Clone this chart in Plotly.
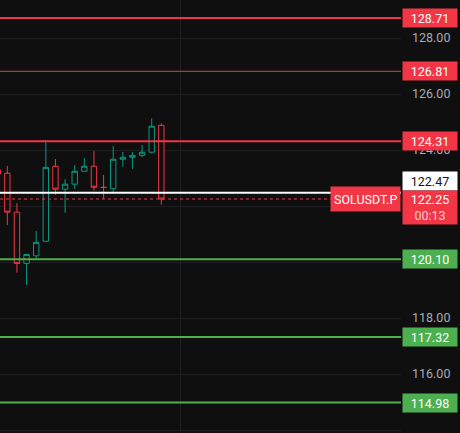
import plotly.graph_objects as go

# ---- data ----
candle_idx = list(range(18))
opens  = [123.29, 123.17, 121.78, 119.95, 120.22, 120.74, 123.42, 122.60, 122.78, 123.24,
          123.42, 122.67, 122.62, 123.67, 123.74, 123.81, 123.92, 124.88]
highs  = [123.35, 123.43, 122.10, 120.27, 121.11, 124.36, 123.68, 122.96, 123.46, 123.71,
          123.96, 123.11, 124.14, 123.93, 123.93, 124.18, 125.13, 124.95]
lows   = [122.90, 121.32, 119.62, 119.18, 120.14, 120.74, 122.40, 121.76, 122.61, 123.24,
          122.55, 122.26, 122.51, 123.40, 123.33, 123.74, 123.88, 122.05]
closes = [123.14, 121.78, 119.95, 120.27, 120.70, 123.38, 122.60, 122.78, 123.24, 123.42,
          122.67, 122.66, 123.67, 123.74, 123.81, 123.92, 124.85, 122.25]

tick_values = [114, 116, 118, 120, 122, 124, 126, 128]
tick_labels = ["114.00", "116.00", "118.00", "", "", "124.00", "126.00", "128.00"]

red_levels = [128.71, 126.81, 124.31]
red_widths = [2, 1, 2]
green_levels = [120.10, 117.32, 114.98]
white_level = 122.47
last_price = 122.25
countdown = "00:13"
symbol = "SOLUSDT.P"

# ---- styles ----
BG = "#0f0f0f"
RED = "#f23645"
GREEN = "#4caf50"
CANDLE_GREEN = "#089981"
GRID = "#1f1f1f"
FONT = "Roboto"

fig = go.Figure()
fig.add_trace(go.Candlestick(
    x=candle_idx, open=opens, high=highs, low=lows, close=closes,
    increasing=dict(line=dict(color=CANDLE_GREEN, width=1), fillcolor=BG),
    decreasing=dict(line=dict(color=RED, width=1), fillcolor=BG),
    whiskerwidth=0, hoverinfo="skip", showlegend=False,
))

shapes = []
for v, w in zip(red_levels, red_widths):
    shapes.append(dict(type="line", xref="paper", x0=0, x1=1, y0=v, y1=v,
                       line=dict(color=RED, width=w), layer="above"))
for v in green_levels:
    shapes.append(dict(type="line", xref="paper", x0=0, x1=1, y0=v, y1=v,
                       line=dict(color=GREEN, width=2), layer="above"))
shapes.append(dict(type="line", xref="paper", x0=0, x1=1, y0=white_level, y1=white_level,
                   line=dict(color="#ffffff", width=2), layer="above"))
shapes.append(dict(type="line", xref="paper", x0=0, x1=1, y0=last_price, y1=last_price,
                   line=dict(color=RED, width=1, dash="dot"), layer="above"))

annotations = []
def level_label(v, bg, fg="#ffffff", yshift=0):
    return dict(xref="paper", yref="y", x=1, y=v, xanchor="left", yanchor="middle",
                xshift=1, yshift=yshift, text=f"{v:.2f}", showarrow=False,
                bgcolor=bg, width=54, height=18, borderpad=0, align="center",
                font=dict(family=FONT, size=12.5, color=fg))

for v in red_levels:
    annotations.append(level_label(v, RED))
for v in green_levels:
    annotations.append(level_label(v, GREEN))
annotations.append(level_label(white_level, "#ffffff", fg="#131313", yshift=12))
annotations.append(dict(xref="paper", yref="y", x=1, y=last_price, xanchor="left", yanchor="top",
                        xshift=1, yshift=9, showarrow=False, bgcolor=RED, width=54, height=33,
                        borderpad=0, align="center",
                        text=f"{last_price:.2f}<br><span style='color:rgba(255,255,255,0.75)'>{countdown}</span>",
                        font=dict(family=FONT, size=12.5, color="#ffffff")))
annotations.append(dict(xref="paper", yref="y", x=1, y=last_price, xanchor="right", yanchor="middle",
                        xshift=0, showarrow=False, bgcolor=RED, height=18, borderpad=3,
                        text=symbol, font=dict(family=FONT, size=12.5, color="#ffffff")))

fig.update_layout(
    width=460, height=433,
    margin=dict(l=0, r=59, t=0, b=0),
    paper_bgcolor=BG, plot_bgcolor=BG,
    shapes=shapes, annotations=annotations,
    showlegend=False, boxgap=0.2,
    xaxis=dict(range=[0.239, 41.9], rangeslider=dict(visible=False),
               showticklabels=False, ticks="", tickvals=[18.94],
               showgrid=True, gridcolor=GRID, gridwidth=1, zeroline=False, showline=False),
    yaxis=dict(range=[113.893, 129.357], side="right",
               tickvals=tick_values, ticktext=tick_labels, ticks="", ticklabelstandoff=10,
               showgrid=True, gridcolor=GRID, gridwidth=1, zeroline=False, showline=False,
               tickfont=dict(family=FONT, size=12.5, color="#a9acb4")),
)

fig.write_html("out.html", config={"displayModeBar": False},
               post_script="document.body.style.margin='0';document.body.style.background='#0f0f0f';")
